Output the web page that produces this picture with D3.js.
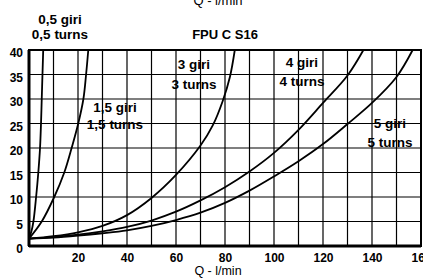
<!DOCTYPE html>
<html>
<head>
<meta charset="utf-8">
<script src="https://cdn.jsdelivr.net/npm/d3@7"></script>
<style>
	body { margin: 0; background: #fff; }
	svg { display: block; font-family: "Liberation Sans", Arial, sans-serif; }
</style>
</head>
<body>
<svg width="423" height="279"></svg>
<script>
// flow Q (l/min) and pressure for each number of turns
var q05 = [0, 1, 1.8, 2.9, 3.8, 4.5, 4.9, 5.2, 5.5, 5.8];
var p05 = [1.5, 3, 5, 10, 15, 20, 25, 30, 35, 40];

var q15 = [0, 5.2, 10.3, 14.4, 17.4, 20.1, 22.2, 23.3, 24.2];
var p15 = [1.5, 5, 10, 15, 20, 25, 30, 35, 40];

var q3 = [0, 10, 20, 30, 40, 50, 60, 70, 75, 79, 82, 84];
var p3 = [1.5, 2, 2.8, 4.1, 6.3, 9.8, 14.5, 20.5, 24.6, 29.5, 34.5, 40];

var q4 = [0, 10, 20, 30, 40, 50, 60, 70, 80, 90, 100, 110, 120, 130, 136.5];
var p4 = [1.5, 1.8, 2.3, 3, 3.9, 5.2, 7, 9.3, 12, 15.2, 19, 23.7, 29.2, 34.8, 40];

var q5 = [0, 10, 20, 30, 40, 50, 60, 70, 80, 90, 100, 110, 120, 130, 140, 150, 156.6];
var p5 = [1.5, 1.7, 2.1, 2.6, 3.2, 4.1, 5.3, 6.8, 8.8, 11.3, 14.2, 17.3, 20.8, 24.9, 29.2, 34.5, 40];

var xTicks = [20, 40, 60, 80, 100, 120, 140, 160];
var yTicks = [0, 5, 10, 15, 20, 25, 30, 35, 40];

var curveNames = [["0,5 giri", "0,5 turns"], ["1,5 giri", "1,5 turns"], ["3 giri", "3 turns"], ["4 giri", "4 turns"], ["5 giri", "5 turns"]];

var svg = d3.select("svg");
var margin = { top: 50, right: 2, bottom: 33, left: 29 },
	width = +svg.attr("width") - margin.left - margin.right,
	height = +svg.attr("height") - margin.top - margin.bottom;

var x = d3.scaleLinear().domain([0, 160]).range([0, width]);
var y = d3.scaleLinear().domain([0, 40]).range([height, 0]);

var g = svg.append("g").attr("transform", "translate(" + margin.left + "," + margin.top + ")");

// grid
g.selectAll(".vgrid")
	.data(d3.range(10, 160, 10))
	.enter().append("line")
	.attr("x1", function (d) { return x(d); })
	.attr("x2", function (d) { return x(d); })
	.attr("y1", 0).attr("y2", height)
	.attr("stroke", "#000").attr("stroke-width", 1.2);

g.selectAll(".hgrid")
	.data(d3.range(5, 40, 5))
	.enter().append("line")
	.attr("x1", 0).attr("x2", width)
	.attr("y1", function (d) { return y(d); })
	.attr("y2", function (d) { return y(d); })
	.attr("stroke", "#000").attr("stroke-width", 1.2);

// frame
g.append("rect")
	.attr("width", width).attr("height", height)
	.attr("fill", "none").attr("stroke", "#000").attr("stroke-width", 2);
g.append("line").attr("x1", 0).attr("x2", 0).attr("y1", 0).attr("y2", height)
	.attr("stroke", "#000").attr("stroke-width", 3);
g.append("line").attr("x1", 0).attr("x2", width).attr("y1", height).attr("y2", height)
	.attr("stroke", "#000").attr("stroke-width", 3);

// axes labels
var yAxis = g.append("g")
	.call(d3.axisLeft(y).tickValues(yTicks).tickSize(0).tickPadding(6));
yAxis.select(".domain").remove();
yAxis.selectAll("text")
	.attr("dy", "0.55em")
	.style("font-size", "12px").style("font-weight", "bold").attr("fill", "#000");

var xAxis = g.append("g")
	.attr("transform", "translate(0," + height + ")")
	.call(d3.axisBottom(x).tickValues(xTicks).tickSize(0).tickPadding(7));
xAxis.select(".domain").remove();
xAxis.selectAll("text")
	.style("font-size", "12px").style("font-weight", "bold").attr("fill", "#000");

// curves
var series = [[q05, p05], [q15, p15], [q3, p3], [q4, p4], [q5, p5]];
var line = d3.line()
	.x(function (d) { return x(d[0]); })
	.y(function (d) { return y(d[1]); })
	.curve(d3.curveCatmullRom.alpha(0.5));

g.selectAll(".curve")
	.data(series)
	.enter().append("path")
	.attr("d", function (s) { return line(d3.zip(s[0], s[1])); })
	.attr("fill", "none").attr("stroke", "#000").attr("stroke-width", 1.8);

// curve labels
var labelPos = [[60, 24, 39], [115, 112, 129], [194, 69, 89], [302, 67, 86], [390, 128, 147]];
labelPos.forEach(function (p, i) {
	[0, 1].forEach(function (k) {
		svg.append("text")
			.attr("x", p[0]).attr("y", p[1 + k])
			.attr("text-anchor", "middle")
			.style("font-size", "13.5px").style("font-weight", "bold")
			.text(curveNames[i][k]);
	});
});

// titles
svg.append("text").attr("x", 225).attr("y", 39).attr("text-anchor", "middle")
	.style("font-size", "13px").style("font-weight", "bold").text("FPU C S16");
svg.append("text").attr("x", 218).attr("y", 5).attr("text-anchor", "middle")
	.style("font-size", "13px").text("Q - l/min");
svg.append("text").attr("x", 218).attr("y", 275).attr("text-anchor", "middle")
	.style("font-size", "12.5px").text("Q - l/min");
</script>
</body>
</html>
